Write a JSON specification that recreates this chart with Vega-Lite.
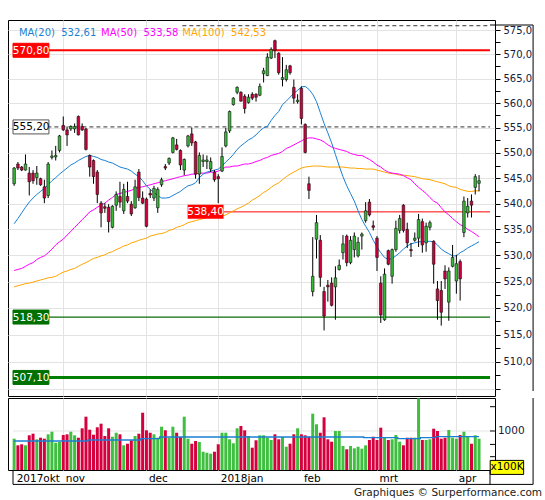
{
  "$schema": "https://vega.github.io/schema/vega-lite/v6.json",
  "background": "white",
  "padding": {"left": 7, "top": 19, "right": 0, "bottom": 0},
  "spacing": 0,
  "config": {
    "font": "DejaVu Sans",
    "view": {"stroke": "#000", "strokeWidth": 1},
    "axis": {"labelFont": "DejaVu Sans", "labelFontSize": 10, "labelColor": "#14213d", "gridColor": "#e3e3e3", "tickColor": "#000"}
  },
  "title": {"text": "Graphiques © Surperformance.com", "orient": "bottom", "anchor": "end", "fontSize": 10.5, "fontWeight": "normal", "color": "#222", "offset": 3, "dx": 8},
  "datasets": {
    "levels": [
      {"level": 570.8, "label": "570,80"},
      {"level": 555.2, "label": "555,20"},
      {"level": 538.4, "label": "538,40"},
      {"level": 518.3, "label": "518,30"},
      {"level": 507.1, "label": "507,10"}
    ],
    "legend": [
      {"ma": "MA(20)", "label": "MA(20)\u00a0\u00a0532,61"},
      {"ma": "MA(50)", "label": "MA(50)\u00a0\u00a0533,58"},
      {"ma": "MA(100)", "label": "MA(100)\u00a0\u00a0542,53"}
    ],
    "volticks": [
      {"v": 341, "label": ""},
      {"v": 656, "label": ""},
      {"v": 1000, "label": "1000"},
      {"v": 1623, "label": ""}
    ],
    "days": [
      {"i":0,"o":543.9,"h":547.2,"l":543.5,"c":547.0,"v":803,"ma20":536.1,"ma50":527.1,"ma100":524.0,"va":744},
      {"i":1,"o":547.8,"h":548.2,"l":546.6,"c":547.0,"v":633,"ma20":537.1,"ma50":527.3,"ma100":524.2,"va":744},
      {"i":2,"o":547.2,"h":547.4,"l":546.4,"c":546.6,"v":659,"ma20":538.2,"ma50":527.5,"ma100":524.4,"va":744},
      {"i":3,"o":546.6,"h":549.7,"l":546.5,"c":547.8,"v":633,"ma20":539.3,"ma50":527.9,"ma100":524.6,"va":744},
      {"i":4,"o":546.0,"h":547.2,"l":541.6,"c":544.3,"v":890,"ma20":540.3,"ma50":528.3,"ma100":524.7,"va":744},
      {"i":5,"o":546.0,"h":546.6,"l":543.9,"c":544.5,"v":931,"ma20":541.1,"ma50":528.6,"ma100":524.9,"va":744},
      {"i":6,"o":545.1,"h":547.4,"l":543.7,"c":546.0,"v":787,"ma20":541.8,"ma50":529.2,"ma100":525.1,"va":744},
      {"i":7,"o":544.9,"h":545.1,"l":543.5,"c":543.7,"v":828,"ma20":542.4,"ma50":529.6,"ma100":525.3,"va":744},
      {"i":8,"o":543.3,"h":544.7,"l":540.1,"c":541.1,"v":803,"ma20":543.0,"ma50":529.9,"ma100":525.5,"va":744},
      {"i":9,"o":541.6,"h":548.2,"l":541.1,"c":547.8,"v":915,"ma20":543.7,"ma50":530.5,"ma100":525.7,"va":744},
      {"i":10,"o":549.1,"h":550.5,"l":548.7,"c":549.4,"v":982,"ma20":544.5,"ma50":531.2,"ma100":525.8,"va":744},
      {"i":11,"o":549.2,"h":551.4,"l":548.5,"c":549.5,"v":700,"ma20":545.1,"ma50":532.0,"ma100":526.0,"va":744},
      {"i":12,"o":550.5,"h":553.6,"l":550.1,"c":553.4,"v":718,"ma20":545.8,"ma50":532.6,"ma100":526.4,"va":744},
      {"i":13,"o":555.5,"h":557.3,"l":554.4,"c":554.6,"v":897,"ma20":546.4,"ma50":533.1,"ma100":526.8,"va":744},
      {"i":14,"o":554.6,"h":555.3,"l":551.4,"c":553.6,"v":915,"ma20":547.0,"ma50":533.9,"ma100":527.0,"va":744},
      {"i":15,"o":554.8,"h":555.5,"l":554.4,"c":555.3,"v":982,"ma20":547.6,"ma50":534.6,"ma100":527.3,"va":744},
      {"i":16,"o":554.8,"h":555.9,"l":554.0,"c":555.3,"v":890,"ma20":548.0,"ma50":535.4,"ma100":527.5,"va":744},
      {"i":17,"o":557.3,"h":557.5,"l":553.5,"c":553.6,"v":828,"ma20":548.5,"ma50":536.1,"ma100":527.9,"va":744},
      {"i":18,"o":555.3,"h":555.9,"l":554.4,"c":554.6,"v":1069,"ma20":548.9,"ma50":536.9,"ma100":528.3,"va":744},
      {"i":19,"o":554.8,"h":555.0,"l":550.5,"c":550.7,"v":1367,"ma20":549.3,"ma50":537.6,"ma100":528.6,"va":744},
      {"i":20,"o":549.5,"h":549.7,"l":545.3,"c":547.2,"v":1033,"ma20":549.5,"ma50":538.4,"ma100":529.0,"va":769},
      {"i":21,"o":548.5,"h":548.7,"l":543.9,"c":545.3,"v":905,"ma20":549.3,"ma50":538.8,"ma100":529.4,"va":769},
      {"i":22,"o":546.2,"h":546.6,"l":540.1,"c":541.8,"v":1095,"ma20":549.1,"ma50":539.3,"ma100":529.6,"va":769},
      {"i":23,"o":540.1,"h":540.5,"l":535.4,"c":538.2,"v":1187,"ma20":548.7,"ma50":539.7,"ma100":529.9,"va":769},
      {"i":24,"o":539.4,"h":540.1,"l":538.2,"c":539.1,"v":872,"ma20":548.5,"ma50":540.1,"ma100":530.1,"va":769},
      {"i":25,"o":539.3,"h":539.9,"l":534.4,"c":536.5,"v":1069,"ma20":548.2,"ma50":540.7,"ma100":530.5,"va":769},
      {"i":26,"o":535.4,"h":539.7,"l":535.2,"c":539.5,"v":854,"ma20":548.0,"ma50":541.2,"ma100":530.7,"va":769},
      {"i":27,"o":539.7,"h":542.4,"l":538.6,"c":541.8,"v":956,"ma20":547.6,"ma50":541.8,"ma100":531.1,"va":769},
      {"i":28,"o":541.4,"h":544.3,"l":539.2,"c":540.3,"v":915,"ma20":547.2,"ma50":542.0,"ma100":531.4,"va":769},
      {"i":29,"o":538.6,"h":543.9,"l":538.0,"c":542.8,"v":633,"ma20":547.0,"ma50":542.2,"ma100":531.8,"va":769},
      {"i":30,"o":541.4,"h":544.3,"l":540.1,"c":540.5,"v":674,"ma20":546.8,"ma50":542.4,"ma100":532.0,"va":769},
      {"i":31,"o":539.9,"h":540.5,"l":537.6,"c":538.0,"v":762,"ma20":546.4,"ma50":542.6,"ma100":532.4,"va":769},
      {"i":32,"o":539.2,"h":544.7,"l":539.0,"c":543.3,"v":872,"ma20":545.8,"ma50":543.0,"ma100":532.6,"va":769},
      {"i":33,"o":546.2,"h":546.8,"l":540.5,"c":541.2,"v":931,"ma20":545.3,"ma50":543.2,"ma100":532.9,"va":769},
      {"i":34,"o":541.1,"h":542.4,"l":539.9,"c":540.1,"v":1469,"ma20":544.5,"ma50":543.3,"ma100":533.1,"va":803},
      {"i":35,"o":540.9,"h":541.2,"l":535.4,"c":535.6,"v":1018,"ma20":543.5,"ma50":543.5,"ma100":533.3,"va":803},
      {"i":36,"o":542.0,"h":542.8,"l":541.1,"c":541.7,"v":956,"ma20":542.8,"ma50":543.7,"ma100":533.7,"va":803},
      {"i":37,"o":541.1,"h":543.5,"l":540.5,"c":543.0,"v":915,"ma20":542.2,"ma50":543.9,"ma100":533.9,"va":803},
      {"i":38,"o":539.2,"h":543.2,"l":538.2,"c":542.8,"v":828,"ma20":541.6,"ma50":544.1,"ma100":534.1,"va":803},
      {"i":39,"o":543.7,"h":545.1,"l":543.3,"c":544.7,"v":1110,"ma20":541.1,"ma50":544.3,"ma100":534.2,"va":846},
      {"i":40,"o":547.3,"h":547.8,"l":546.6,"c":547.0,"v":1018,"ma20":541.1,"ma50":544.5,"ma100":534.4,"va":846},
      {"i":41,"o":548.0,"h":549.1,"l":547.6,"c":548.9,"v":828,"ma20":541.2,"ma50":544.7,"ma100":534.8,"va":846},
      {"i":42,"o":550.1,"h":553.2,"l":549.9,"c":553.0,"v":1110,"ma20":541.6,"ma50":544.9,"ma100":535.0,"va":846},
      {"i":43,"o":551.6,"h":552.8,"l":550.5,"c":550.7,"v":956,"ma20":542.0,"ma50":545.1,"ma100":535.4,"va":846},
      {"i":44,"o":550.5,"h":550.7,"l":546.6,"c":547.6,"v":846,"ma20":542.4,"ma50":545.3,"ma100":535.6,"va":846},
      {"i":45,"o":546.6,"h":548.9,"l":545.6,"c":548.7,"v":1367,"ma20":543.0,"ma50":545.5,"ma100":535.9,"va":846},
      {"i":46,"o":551.4,"h":553.6,"l":551.1,"c":553.4,"v":803,"ma20":543.5,"ma50":545.6,"ma100":536.3,"va":846},
      {"i":47,"o":553.8,"h":555.1,"l":551.4,"c":552.0,"v":674,"ma20":543.7,"ma50":545.8,"ma100":536.5,"va":846},
      {"i":48,"o":552.2,"h":552.4,"l":544.9,"c":545.8,"v":744,"ma20":544.1,"ma50":545.8,"ma100":536.7,"va":846},
      {"i":49,"o":545.8,"h":550.1,"l":543.9,"c":549.5,"v":718,"ma20":545.1,"ma50":546.0,"ma100":536.9,"va":846},
      {"i":50,"o":548.3,"h":549.7,"l":547.2,"c":548.6,"v":469,"ma20":545.8,"ma50":546.0,"ma100":537.1,"va":846},
      {"i":51,"o":548.3,"h":549.5,"l":546.8,"c":548.6,"v":444,"ma20":546.2,"ma50":546.0,"ma100":537.3,"va":846},
      {"i":52,"o":546.8,"h":549.1,"l":546.2,"c":548.3,"v":418,"ma20":546.4,"ma50":546.2,"ma100":537.5,"va":846},
      {"i":53,"o":546.2,"h":546.6,"l":544.3,"c":544.7,"v":469,"ma20":546.6,"ma50":546.2,"ma100":537.5,"va":846},
      {"i":54,"o":545.3,"h":545.8,"l":540.1,"c":544.9,"v":659,"ma20":546.8,"ma50":546.4,"ma100":537.6,"va":846},
      {"i":55,"o":546.4,"h":551.1,"l":546.2,"c":549.3,"v":956,"ma20":547.4,"ma50":546.8,"ma100":537.6,"va":846},
      {"i":56,"o":551.4,"h":555.0,"l":551.1,"c":554.2,"v":956,"ma20":548.2,"ma50":547.2,"ma100":537.8,"va":846},
      {"i":57,"o":554.4,"h":558.5,"l":554.0,"c":558.3,"v":787,"ma20":548.9,"ma50":547.2,"ma100":538.2,"va":846},
      {"i":58,"o":559.7,"h":561.2,"l":559.5,"c":561.0,"v":685,"ma20":549.7,"ma50":547.4,"ma100":538.6,"va":846},
      {"i":59,"o":562.2,"h":563.4,"l":561.8,"c":563.2,"v":1069,"ma20":550.7,"ma50":547.4,"ma100":539.0,"va":846},
      {"i":60,"o":562.2,"h":562.4,"l":560.3,"c":560.4,"v":1128,"ma20":551.4,"ma50":547.6,"ma100":539.3,"va":846},
      {"i":61,"o":561.4,"h":561.8,"l":557.9,"c":558.9,"v":1018,"ma20":552.0,"ma50":547.8,"ma100":539.7,"va":846},
      {"i":62,"o":560.1,"h":561.8,"l":559.9,"c":561.2,"v":872,"ma20":552.6,"ma50":547.8,"ma100":540.1,"va":846},
      {"i":63,"o":561.8,"h":562.2,"l":560.6,"c":561.0,"v":572,"ma20":553.0,"ma50":548.0,"ma100":540.7,"va":846},
      {"i":64,"o":561.8,"h":562.0,"l":560.3,"c":561.2,"v":762,"ma20":553.6,"ma50":548.3,"ma100":541.1,"va":846},
      {"i":65,"o":561.6,"h":564.0,"l":561.4,"c":563.4,"v":890,"ma20":554.4,"ma50":548.5,"ma100":541.6,"va":846},
      {"i":66,"o":566.0,"h":567.2,"l":564.2,"c":566.6,"v":890,"ma20":555.0,"ma50":548.9,"ma100":542.2,"va":846},
      {"i":67,"o":565.6,"h":570.2,"l":565.5,"c":569.4,"v":828,"ma20":555.3,"ma50":549.1,"ma100":542.6,"va":846},
      {"i":68,"o":569.2,"h":571.4,"l":569.0,"c":571.0,"v":769,"ma20":556.5,"ma50":549.5,"ma100":543.2,"va":846},
      {"i":69,"o":572.8,"h":573.0,"l":569.2,"c":570.8,"v":915,"ma20":557.5,"ma50":549.7,"ma100":543.7,"va":846},
      {"i":70,"o":570.2,"h":570.4,"l":565.8,"c":566.2,"v":787,"ma20":558.3,"ma50":549.9,"ma100":544.1,"va":846},
      {"i":71,"o":564.8,"h":569.4,"l":563.4,"c":565.2,"v":846,"ma20":559.7,"ma50":550.3,"ma100":544.7,"va":846},
      {"i":72,"o":564.8,"h":567.8,"l":564.4,"c":566.8,"v":597,"ma20":560.4,"ma50":550.9,"ma100":545.3,"va":846},
      {"i":73,"o":567.6,"h":567.8,"l":565.8,"c":566.2,"v":674,"ma20":561.2,"ma50":551.2,"ma100":545.8,"va":846},
      {"i":74,"o":563.2,"h":564.8,"l":559.9,"c":561.0,"v":915,"ma20":562.0,"ma50":551.6,"ma100":546.2,"va":846},
      {"i":75,"o":560.3,"h":561.8,"l":559.9,"c":560.6,"v":1069,"ma20":562.6,"ma50":552.0,"ma100":546.6,"va":846},
      {"i":76,"o":563.0,"h":563.4,"l":555.7,"c":556.9,"v":915,"ma20":563.3,"ma50":552.4,"ma100":547.0,"va":846},
      {"i":77,"o":555.7,"h":555.9,"l":549.9,"c":550.1,"v":890,"ma20":563.4,"ma50":552.8,"ma100":547.2,"va":846},
      {"i":78,"o":543.9,"h":545.3,"l":540.9,"c":542.6,"v":854,"ma20":562.8,"ma50":553.0,"ma100":547.3,"va":846},
      {"i":79,"o":523.1,"h":533.5,"l":522.2,"c":526.0,"v":1444,"ma20":561.8,"ma50":553.0,"ma100":547.4,"va":846},
      {"i":80,"o":533.1,"h":537.8,"l":529.4,"c":536.3,"v":1172,"ma20":560.3,"ma50":552.8,"ma100":547.4,"va":846},
      {"i":81,"o":532.9,"h":533.9,"l":524.0,"c":525.8,"v":956,"ma20":558.1,"ma50":552.6,"ma100":547.4,"va":846},
      {"i":82,"o":523.1,"h":524.0,"l":515.8,"c":518.5,"v":1351,"ma20":555.9,"ma50":552.2,"ma100":547.3,"va":846},
      {"i":83,"o":524.3,"h":525.3,"l":521.2,"c":524.0,"v":787,"ma20":554.0,"ma50":551.6,"ma100":547.2,"va":846},
      {"i":84,"o":524.7,"h":525.8,"l":520.3,"c":520.5,"v":726,"ma20":552.0,"ma50":551.2,"ma100":547.2,"va":846},
      {"i":85,"o":524.0,"h":527.9,"l":517.8,"c":525.7,"v":1000,"ma20":549.7,"ma50":550.9,"ma100":547.2,"va":846},
      {"i":86,"o":527.3,"h":529.2,"l":527.1,"c":528.1,"v":1000,"ma20":547.4,"ma50":550.7,"ma100":547.2,"va":846},
      {"i":87,"o":530.5,"h":533.9,"l":529.2,"c":532.2,"v":615,"ma20":545.3,"ma50":550.5,"ma100":547.2,"va":846},
      {"i":88,"o":533.7,"h":534.0,"l":527.9,"c":528.6,"v":531,"ma20":543.5,"ma50":550.3,"ma100":547.1,"va":846},
      {"i":89,"o":528.6,"h":533.7,"l":528.3,"c":532.9,"v":615,"ma20":542.0,"ma50":549.9,"ma100":547.0,"va":846},
      {"i":90,"o":531.1,"h":534.4,"l":529.6,"c":533.7,"v":556,"ma20":540.5,"ma50":549.7,"ma100":547.0,"va":846},
      {"i":91,"o":529.9,"h":533.5,"l":529.6,"c":532.5,"v":597,"ma20":538.6,"ma50":549.5,"ma100":546.9,"va":846},
      {"i":92,"o":533.7,"h":534.4,"l":531.1,"c":534.1,"v":546,"ma20":536.9,"ma50":549.5,"ma100":546.9,"va":846},
      {"i":93,"o":536.7,"h":540.3,"l":536.3,"c":538.6,"v":633,"ma20":535.6,"ma50":549.1,"ma100":546.8,"va":828},
      {"i":94,"o":540.3,"h":540.9,"l":537.5,"c":537.8,"v":769,"ma20":534.4,"ma50":548.7,"ma100":546.8,"va":828},
      {"i":95,"o":535.7,"h":536.7,"l":534.8,"c":535.4,"v":854,"ma20":532.9,"ma50":548.2,"ma100":546.8,"va":828},
      {"i":96,"o":533.3,"h":533.7,"l":527.0,"c":529.6,"v":769,"ma20":531.6,"ma50":547.6,"ma100":546.6,"va":828},
      {"i":97,"o":524.7,"h":526.0,"l":517.2,"c":518.7,"v":1085,"ma20":530.5,"ma50":547.2,"ma100":546.4,"va":828},
      {"i":98,"o":517.8,"h":527.5,"l":517.6,"c":526.4,"v":828,"ma20":529.6,"ma50":546.6,"ma100":546.2,"va":828},
      {"i":99,"o":530.9,"h":531.1,"l":528.1,"c":528.3,"v":769,"ma20":529.2,"ma50":546.2,"ma100":546.0,"va":828},
      {"i":100,"o":526.0,"h":531.3,"l":524.6,"c":531.1,"v":787,"ma20":529.4,"ma50":546.0,"ma100":545.9,"va":828},
      {"i":101,"o":531.1,"h":536.7,"l":530.7,"c":535.2,"v":897,"ma20":529.9,"ma50":545.9,"ma100":545.8,"va":828},
      {"i":102,"o":534.8,"h":537.8,"l":534.2,"c":537.1,"v":726,"ma20":530.5,"ma50":545.8,"ma100":545.6,"va":803},
      {"i":103,"o":539.7,"h":539.9,"l":534.4,"c":534.8,"v":633,"ma20":531.2,"ma50":545.5,"ma100":545.6,"va":803},
      {"i":104,"o":535.0,"h":536.3,"l":531.4,"c":532.4,"v":828,"ma20":531.8,"ma50":545.1,"ma100":545.5,"va":803},
      {"i":105,"o":531.1,"h":532.4,"l":529.7,"c":530.9,"v":828,"ma20":532.2,"ma50":544.7,"ma100":545.4,"va":803},
      {"i":106,"o":532.9,"h":534.4,"l":532.6,"c":533.3,"v":828,"ma20":532.4,"ma50":543.9,"ma100":545.3,"va":803},
      {"i":107,"o":533.3,"h":538.0,"l":531.6,"c":536.9,"v":1838,"ma20":532.6,"ma50":543.2,"ma100":545.1,"va":803},
      {"i":108,"o":536.5,"h":537.1,"l":530.5,"c":532.0,"v":769,"ma20":532.6,"ma50":542.6,"ma100":544.9,"va":828},
      {"i":109,"o":532.4,"h":536.3,"l":530.7,"c":535.6,"v":769,"ma20":532.7,"ma50":542.0,"ma100":544.8,"va":828},
      {"i":110,"o":535.4,"h":536.7,"l":534.8,"c":536.3,"v":787,"ma20":532.7,"ma50":541.2,"ma100":544.7,"va":828},
      {"i":111,"o":532.7,"h":532.9,"l":524.6,"c":528.3,"v":1059,"ma20":532.6,"ma50":540.5,"ma100":544.5,"va":828},
      {"i":112,"o":523.6,"h":525.1,"l":517.8,"c":521.4,"v":1000,"ma20":532.0,"ma50":540.1,"ma100":544.3,"va":854},
      {"i":113,"o":523.3,"h":525.1,"l":516.7,"c":519.2,"v":803,"ma20":531.2,"ma50":539.2,"ma100":544.1,"va":854},
      {"i":114,"o":527.0,"h":528.1,"l":523.6,"c":525.5,"v":828,"ma20":530.7,"ma50":538.4,"ma100":543.9,"va":854},
      {"i":115,"o":521.1,"h":527.7,"l":517.6,"c":527.0,"v":1026,"ma20":530.3,"ma50":537.8,"ma100":543.5,"va":854},
      {"i":116,"o":527.9,"h":532.0,"l":527.7,"c":529.6,"v":828,"ma20":529.9,"ma50":537.1,"ma100":543.3,"va":854},
      {"i":117,"o":525.1,"h":530.1,"l":522.7,"c":528.4,"v":803,"ma20":529.9,"ma50":536.5,"ma100":543.2,"va":854},
      {"i":118,"o":528.8,"h":529.2,"l":521.4,"c":525.5,"v":897,"ma20":530.5,"ma50":535.9,"ma100":542.8,"va":854},
      {"i":119,"o":534.4,"h":541.4,"l":533.5,"c":540.5,"v":982,"ma20":530.9,"ma50":535.6,"ma100":542.6,"va":854},
      {"i":120,"o":538.2,"h":541.1,"l":537.3,"c":539.5,"v":846,"ma20":531.4,"ma50":535.0,"ma100":542.4,"va":854},
      {"i":121,"o":540.5,"h":541.8,"l":537.3,"c":539.7,"v":674,"ma20":531.8,"ma50":534.6,"ma100":542.4,"va":854},
      {"i":122,"o":543.2,"h":545.8,"l":541.8,"c":545.3,"v":890,"ma20":532.2,"ma50":534.1,"ma100":542.5,"va":854},
      {"i":123,"o":544.0,"h":545.6,"l":542.4,"c":544.5,"v":803,"ma20":532.61,"ma50":533.58,"ma100":542.53,"va":854}
    ]
  },
  "vconcat": [
    {
      "width": 487,
      "height": 376,
      "layer": [
        {
          "data": {"values": [{"top": 575.9}]},
          "mark": {"type": "rule", "color": "#333333", "strokeWidth": 1, "strokeDash": [4, 3]},
          "encoding": {
            "x": {"datum": 44.5, "type": "quantitative", "scale": {"domain": [-0.3, 125.9], "nice": false, "zero": false}},
            "x2": {"datum": 125.9},
            "y": {"field": "top", "type": "quantitative", "scale": {"type": "log", "domain": [504.62, 576.05], "nice": false}}
          }
        },
        {
          "data": {"name": "levels"},
          "transform": [{"filter": "datum.level != 538.4 && datum.level != 555.2"}],
          "mark": {"type": "rule"},
          "encoding": {
            "x": {"datum": -0.3, "type": "quantitative", "scale": {"domain": [-0.3, 125.9], "nice": false, "zero": false}},
            "x2": {"datum": 125.9},
            "y": {"field": "level", "type": "quantitative", "scale": {"type": "log", "domain": [504.62, 576.05], "nice": false}},
            "color": {"condition": [{"test": "datum.level > 560", "value": "#ff0000"}, {"test": "datum.level > 510", "value": "#0a6e0a"}], "value": "#008000"},
            "strokeWidth": {"condition": [{"test": "datum.level > 560", "value": 2}, {"test": "datum.level < 510", "value": 3}], "value": 1.3}
          }
        },
        {
          "data": {"name": "levels"},
          "transform": [{"filter": "datum.level == 555.2"}],
          "mark": {"type": "rule", "color": "#333333", "strokeWidth": 1, "strokeDash": [4, 3]},
          "encoding": {
            "x": {"datum": 8.8, "type": "quantitative", "scale": {"domain": [-0.3, 125.9], "nice": false, "zero": false}},
            "x2": {"datum": 125.9},
            "y": {"field": "level", "type": "quantitative", "scale": {"type": "log", "domain": [504.62, 576.05], "nice": false}}
          }
        },
        {
          "data": {"name": "levels"},
          "transform": [{"filter": "datum.level == 538.4"}],
          "mark": {"type": "rule", "color": "#ff0000", "strokeWidth": 1},
          "encoding": {
            "x": {"datum": 55.4, "type": "quantitative", "scale": {"domain": [-0.3, 125.9], "nice": false, "zero": false}},
            "x2": {"datum": 125.9},
            "y": {"field": "level", "type": "quantitative", "scale": {"type": "log", "domain": [504.62, 576.05], "nice": false}}
          }
        },
        {
          "data": {"name": "days"},
          "mark": {"type": "line", "color": "#ffa500", "strokeWidth": 1},
          "encoding": {
            "x": {"field": "i", "type": "quantitative", "scale": {"domain": [-0.3, 125.9], "nice": false, "zero": false}},
            "y": {"field": "ma100", "type": "quantitative", "scale": {"type": "log", "domain": [504.62, 576.05], "nice": false}}
          }
        },
        {
          "data": {"name": "days"},
          "mark": {"type": "line", "color": "#ff00ff", "strokeWidth": 1},
          "encoding": {
            "x": {"field": "i", "type": "quantitative", "scale": {"domain": [-0.3, 125.9], "nice": false, "zero": false}},
            "y": {"field": "ma50", "type": "quantitative", "scale": {"type": "log", "domain": [504.62, 576.05], "nice": false}}
          }
        },
        {
          "data": {"name": "days"},
          "mark": {"type": "line", "color": "#1a7fd4", "strokeWidth": 1},
          "encoding": {
            "x": {"field": "i", "type": "quantitative", "scale": {"domain": [-0.3, 125.9], "nice": false, "zero": false}},
            "y": {"field": "ma20", "type": "quantitative", "scale": {"type": "log", "domain": [504.62, 576.05], "nice": false}}
          }
        },
        {
          "data": {"name": "days"},
          "mark": {"type": "rule", "color": "#000", "strokeWidth": 1},
          "encoding": {
            "x": {
              "field": "i", "type": "quantitative",
              "scale": {"domain": [-0.3, 125.9], "nice": false, "zero": false},
              "axis": {"values": [13, 35, 54, 76, 96, 117], "labels": false, "ticks": false, "domain": false, "grid": true, "title": null}
            },
            "y": {
              "field": "l", "type": "quantitative",
              "scale": {"type": "log", "domain": [504.62, 576.05], "nice": false},
              "axis": {
                "orient": "right", "title": null, "domain": false, "tickSize": 5, "labelPadding": 3, "labelOverlap": false,
                "values": [505, 507.5, 510, 512.5, 515, 517.5, 520, 522.5, 525, 527.5, 530, 532.5, 535, 537.5, 540, 542.5, 545, 547.5, 550, 552.5, 555, 557.5, 560, 562.5, 565, 567.5, 570, 572.5, 575],
                "labelExpr": "datum.value % 5 == 0 && datum.value > 506 ? replace(format(datum.value, '.1f'), '.', ',') : ''",
                "grid": true,
                "gridOpacity": {"condition": {"test": "datum.value % 5 != 0", "value": 0}, "value": 1}
              }
            },
            "y2": {"field": "h"}
          }
        },
        {
          "data": {"name": "days"},
          "mark": {"type": "bar", "orient": "vertical", "size": 2.6, "stroke": "#111", "strokeWidth": 0.6},
          "encoding": {
            "x": {"field": "i", "type": "quantitative", "scale": {"domain": [-0.3, 125.9], "nice": false, "zero": false}},
            "y": {"field": "o", "type": "quantitative", "scale": {"type": "log", "domain": [504.62, 576.05], "nice": false}},
            "y2": {"field": "c"},
            "fill": {"condition": {"test": "datum.c >= datum.o", "value": "#37b837"}, "value": "#d0003c"}
          }
        },
        {
          "data": {"name": "levels"},
          "transform": [{"filter": "datum.level != 538.4"}],
          "mark": {"type": "bar", "orient": "horizontal", "size": 14, "strokeWidth": 1},
          "encoding": {
            "x": {"datum": -0.3, "type": "quantitative", "scale": {"domain": [-0.3, 125.9], "nice": false, "zero": false}},
            "x2": {"datum": 9.2},
            "y": {"field": "level", "type": "quantitative", "scale": {"type": "log", "domain": [504.62, 576.05], "nice": false}},
            "fill": {"condition": [{"test": "datum.level == 555.2", "value": "#ffffff"}, {"test": "datum.level < 530", "value": "#007000"}], "value": "#ff0000"},
            "stroke": {"condition": [{"test": "datum.level == 555.2", "value": "#555555"}, {"test": "datum.level < 530", "value": "#007000"}], "value": "#ff0000"}
          }
        },
        {
          "data": {"name": "levels"},
          "transform": [{"filter": "datum.level == 538.4"}],
          "mark": {"type": "bar", "orient": "horizontal", "size": 14, "fill": "#ff0000"},
          "encoding": {
            "x": {"datum": 45.9, "type": "quantitative", "scale": {"domain": [-0.3, 125.9], "nice": false, "zero": false}},
            "x2": {"datum": 55.4},
            "y": {"field": "level", "type": "quantitative", "scale": {"type": "log", "domain": [504.62, 576.05], "nice": false}}
          }
        },
        {
          "data": {"name": "levels"},
          "transform": [{"filter": "datum.level != 538.4"}],
          "mark": {"type": "text", "align": "center", "baseline": "middle", "fontSize": 10.5, "dy": 0.5},
          "encoding": {
            "x": {"datum": 4.5, "type": "quantitative", "scale": {"domain": [-0.3, 125.9], "nice": false, "zero": false}},
            "y": {"field": "level", "type": "quantitative", "scale": {"type": "log", "domain": [504.62, 576.05], "nice": false}},
            "text": {"field": "label"},
            "color": {"condition": {"test": "datum.level == 555.2", "value": "#000000"}, "value": "#ffffff"}
          }
        },
        {
          "data": {"name": "levels"},
          "transform": [{"filter": "datum.level == 538.4"}],
          "mark": {"type": "text", "align": "center", "baseline": "middle", "fontSize": 10.5, "dy": 0.5, "color": "#ffffff"},
          "encoding": {
            "x": {"datum": 50.65, "type": "quantitative", "scale": {"domain": [-0.3, 125.9], "nice": false, "zero": false}},
            "y": {"field": "level", "type": "quantitative", "scale": {"type": "log", "domain": [504.62, 576.05], "nice": false}},
            "text": {"field": "label"}
          }
        },
        {
          "data": {"name": "legend"},
          "transform": [{"filter": "datum.ma == 'MA(20)'"}],
          "mark": {"type": "text", "align": "left", "baseline": "middle", "fontSize": 10, "color": "#1a7fd4"},
          "encoding": {
            "x": {"datum": 1.26, "type": "quantitative", "scale": {"domain": [-0.3, 125.9], "nice": false, "zero": false}},
            "y": {"datum": 574.4, "type": "quantitative", "scale": {"type": "log", "domain": [504.62, 576.05], "nice": false}},
            "text": {"field": "label"}
          }
        },
        {
          "data": {"name": "legend"},
          "transform": [{"filter": "datum.ma == 'MA(50)'"}],
          "mark": {"type": "text", "align": "left", "baseline": "middle", "fontSize": 10, "color": "#ff00ff"},
          "encoding": {
            "x": {"datum": 23.0, "type": "quantitative", "scale": {"domain": [-0.3, 125.9], "nice": false, "zero": false}},
            "y": {"datum": 574.4, "type": "quantitative", "scale": {"type": "log", "domain": [504.62, 576.05], "nice": false}},
            "text": {"field": "label"}
          }
        },
        {
          "data": {"name": "legend"},
          "transform": [{"filter": "datum.ma == 'MA(100)'"}],
          "mark": {"type": "text", "align": "left", "baseline": "middle", "fontSize": 10, "color": "#ffa500"},
          "encoding": {
            "x": {"datum": 44.5, "type": "quantitative", "scale": {"domain": [-0.3, 125.9], "nice": false, "zero": false}},
            "y": {"datum": 574.4, "type": "quantitative", "scale": {"type": "log", "domain": [504.62, 576.05], "nice": false}},
            "text": {"field": "label"}
          }
        },
        {
          "data": {"values": [{"frame": "right"}]},
          "mark": {"type": "rule", "color": "#000", "strokeWidth": 1},
          "encoding": {
            "x": {"datum": 137.3, "type": "quantitative", "scale": {"domain": [-0.3, 125.9], "nice": false, "zero": false}},
            "y": {"datum": 504.62, "type": "quantitative", "scale": {"type": "log", "domain": [504.62, 576.05], "nice": false}},
            "y2": {"datum": 576.05}
          }
        },
        {
          "data": {"values": [{"frame": "top"}]},
          "mark": {"type": "rule", "color": "#000", "strokeWidth": 1},
          "encoding": {
            "x": {"datum": 125.9, "type": "quantitative", "scale": {"domain": [-0.3, 125.9], "nice": false, "zero": false}},
            "x2": {"datum": 137.3},
            "y": {"datum": 576.05, "type": "quantitative", "scale": {"type": "log", "domain": [504.62, 576.05], "nice": false}}
          }
        }
      ]
    },
    {
      "width": 487,
      "height": 72,
      "layer": [
        {
          "data": {"name": "volticks"},
          "transform": [{"filter": "datum.v == 1000"}],
          "mark": {"type": "rule", "color": "#e3e3e3", "strokeWidth": 1},
          "encoding": {
            "x": {"datum": -0.3, "type": "quantitative", "scale": {"domain": [-0.3, 125.9], "nice": false, "zero": false}},
            "x2": {"datum": 125.9},
            "y": {"field": "v", "type": "quantitative", "scale": {"domain": [0, 1846], "nice": false}}
          }
        },
        {
          "data": {"name": "days"},
          "mark": {"type": "bar", "orient": "vertical", "size": 3},
          "encoding": {
            "x": {
              "field": "i", "type": "quantitative",
              "scale": {"domain": [-0.3, 125.9], "nice": false, "zero": false},
              "axis": {
                "values": [0, 13, 35, 54, 76, 96, 117], "title": null, "ticks": false, "domain": false,
                "labelAlign": "left", "labelOffset": 2, "labelPadding": 3, "labelFlush": false, "labelOverlap": false,
                "labelColor": "#000", "labelFontSize": 10.5,
                "labelExpr": "datum.value == 0 ? '2017okt' : datum.value == 13 ? 'nov' : datum.value == 35 ? 'dec' : datum.value == 54 ? '2018jan' : datum.value == 76 ? 'feb' : datum.value == 96 ? 'mrt' : 'apr'",
                "grid": true,
                "gridOpacity": {"condition": {"test": "datum.value == 0", "value": 0}, "value": 1}
              }
            },
            "y": {
              "field": "v", "type": "quantitative", "stack": null,
              "scale": {"domain": [0, 1846], "nice": false},
              "axis": {"orient": "right", "title": null, "labels": false, "ticks": false, "grid": false, "domain": false}
            },
            "fill": {"condition": {"test": "datum.c >= datum.o", "value": "#3fbf3f"}, "value": "#d5003d"}
          }
        },
        {
          "data": {"name": "days"},
          "mark": {"type": "line", "color": "#1a7fd4", "strokeWidth": 1.3, "interpolate": "step"},
          "encoding": {
            "x": {"field": "i", "type": "quantitative", "scale": {"domain": [-0.3, 125.9], "nice": false, "zero": false}},
            "y": {"field": "va", "type": "quantitative", "scale": {"domain": [0, 1846], "nice": false}}
          }
        },
        {
          "data": {"name": "volticks"},
          "mark": {"type": "rule", "color": "#000", "strokeWidth": 1},
          "encoding": {
            "x": {"datum": 125.9, "type": "quantitative", "scale": {"domain": [-0.3, 125.9], "nice": false, "zero": false}},
            "x2": {"datum": 127.2},
            "y": {"field": "v", "type": "quantitative", "scale": {"domain": [0, 1846], "nice": false}}
          }
        },
        {
          "data": {"name": "volticks"},
          "transform": [{"filter": "datum.v == 1000"}],
          "mark": {"type": "text", "align": "left", "baseline": "middle", "fontSize": 10.5, "color": "#14213d"},
          "encoding": {
            "x": {"datum": 128.0, "type": "quantitative", "scale": {"domain": [-0.3, 125.9], "nice": false, "zero": false}},
            "y": {"field": "v", "type": "quantitative", "scale": {"domain": [0, 1846], "nice": false}},
            "text": {"field": "label"}
          }
        },
        {
          "data": {"values": [{"unit": "x100K"}]},
          "mark": {"type": "rect", "fill": "#ffff00", "stroke": "#000", "strokeWidth": 1},
          "encoding": {
            "x": {"datum": 125.95, "type": "quantitative", "scale": {"domain": [-0.3, 125.9], "nice": false, "zero": false}},
            "x2": {"datum": 134.8},
            "y": {"datum": -113, "type": "quantitative", "scale": {"domain": [0, 1846], "nice": false}},
            "y2": {"datum": 246}
          }
        },
        {
          "data": {"values": [{"unit": "x100K"}]},
          "mark": {"type": "text", "align": "center", "baseline": "middle", "fontSize": 10.5, "color": "#000"},
          "encoding": {
            "x": {"datum": 130.4, "type": "quantitative", "scale": {"domain": [-0.3, 125.9], "nice": false, "zero": false}},
            "y": {"datum": 67, "type": "quantitative", "scale": {"domain": [0, 1846], "nice": false}},
            "text": {"field": "unit"}
          }
        },
        {
          "data": {"values": [{"frame": "right"}]},
          "mark": {"type": "rule", "color": "#000", "strokeWidth": 1},
          "encoding": {
            "x": {"datum": 137.3, "type": "quantitative", "scale": {"domain": [-0.3, 125.9], "nice": false, "zero": false}},
            "y": {"datum": -369, "type": "quantitative", "scale": {"domain": [0, 1846], "nice": false}},
            "y2": {"datum": 1846}
          }
        },
        {
          "data": {"values": [{"frame": "left"}]},
          "mark": {"type": "rule", "color": "#000", "strokeWidth": 1},
          "encoding": {
            "x": {"datum": -0.3, "type": "quantitative", "scale": {"domain": [-0.3, 125.9], "nice": false, "zero": false}},
            "y": {"datum": -369, "type": "quantitative", "scale": {"domain": [0, 1846], "nice": false}},
            "y2": {"datum": 0}
          }
        },
        {
          "data": {"values": [{"frame": "axis"}]},
          "mark": {"type": "rule", "color": "#000", "strokeWidth": 1},
          "encoding": {
            "x": {"datum": 125.9, "type": "quantitative", "scale": {"domain": [-0.3, 125.9], "nice": false, "zero": false}},
            "y": {"datum": -369, "type": "quantitative", "scale": {"domain": [0, 1846], "nice": false}},
            "y2": {"datum": 0}
          }
        },
        {
          "data": {"values": [{"frame": "bottom"}]},
          "mark": {"type": "rule", "color": "#000", "strokeWidth": 1},
          "encoding": {
            "x": {"datum": -0.3, "type": "quantitative", "scale": {"domain": [-0.3, 125.9], "nice": false, "zero": false}},
            "x2": {"datum": 137.3},
            "y": {"datum": -369, "type": "quantitative", "scale": {"domain": [0, 1846], "nice": false}}
          }
        }
      ]
    }
  ]
}
